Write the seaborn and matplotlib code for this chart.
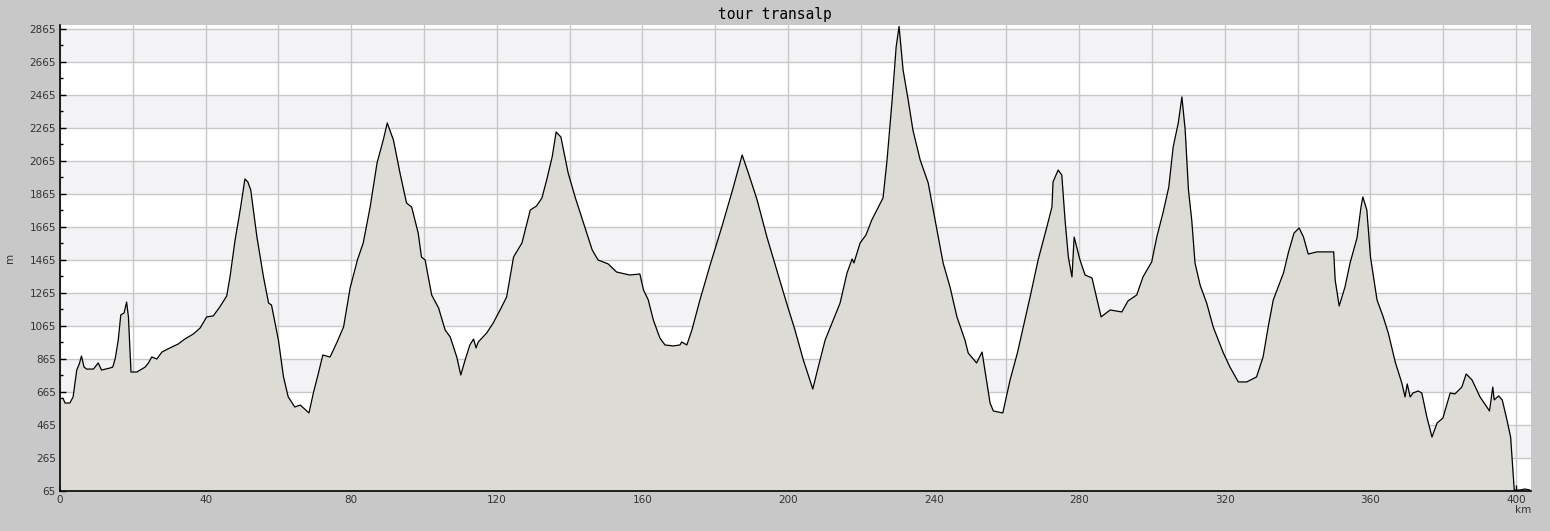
import numpy as np
import pandas as pd
import matplotlib
matplotlib.use("Agg")
import matplotlib.pyplot as plt
import matplotlib.ticker as mticker
import seaborn as sns

# 1. Profile data (distance in km, elevation in m)
km = [0.0, 0.8, 1.4, 2.7, 3.6, 4.6, 5.3, 5.9, 6.6, 7.3, 9.2, 10.5, 11.4, 13.7, 14.5,
      15.2, 16.0, 16.7, 17.6, 18.3, 18.8, 19.5, 21.1, 23.4, 24.3, 25.2, 26.6, 28.0,
      30.2, 32.5, 34.3, 36.6, 38.5, 40.3, 42.1, 43.9, 45.8, 46.7, 48.1, 49.5, 50.8,
      51.6, 52.4, 54.1, 55.9, 57.3, 58.1, 60.0, 61.4, 62.7, 64.5, 66.0, 68.4,
      69.6, 71.0, 72.2, 74.2, 76.0, 77.9, 79.7, 81.7, 83.3, 85.2, 87.1, 88.8, 89.9,
      91.6, 93.4, 95.2, 96.6, 98.4, 99.3, 100.3, 102.1, 104.0, 105.8, 107.2, 109.0,
      110.1, 111.3, 112.6, 113.6, 114.3, 114.9, 117.2, 119.0, 120.9, 122.7, 124.6,
      126.9, 129.2, 130.9, 132.4, 133.7, 135.2, 136.3, 137.6, 139.6, 141.5, 143.8,
      146.2, 147.8, 150.6, 152.9, 156.5, 159.3, 160.3, 161.6, 163.0, 164.8, 166.2,
      168.5, 170.3, 170.8, 172.2, 173.6, 175.8, 178.6, 181.8, 184.6, 187.4, 189.1,
      191.5, 194.2, 196.9, 199.6, 201.9, 204.2, 206.0, 206.8, 208.3, 210.2, 212.1,
      214.3, 216.2, 217.6, 218.1, 219.8, 221.4, 223.0, 224.4, 226.1, 227.2, 228.6,
      229.7, 230.5, 231.6, 233.0, 234.3, 236.3, 238.5, 240.4, 242.6, 244.5, 246.4,
      248.6, 249.5, 251.8, 253.3, 254.2, 255.5, 256.4, 259.0, 261.0, 263.0, 266.5,
      268.7, 271.1, 272.5, 272.8, 274.2, 275.2, 276.1, 277.0, 278.0, 278.6, 280.2,
      281.6, 283.5, 284.9, 286.0, 288.5, 291.7, 293.4, 295.8, 297.5, 299.9, 301.3,
      303.0, 304.6, 305.8, 307.2, 308.2, 309.1, 310.0, 310.9, 311.8, 313.2, 315.0,
      316.8, 319.6, 321.4, 323.7, 326.0, 328.7, 330.5, 331.9, 333.3, 336.1, 337.5,
      339.0, 340.4, 341.6, 342.9, 345.3, 349.9, 350.3, 351.4, 353.0, 354.4, 356.3,
      357.4, 357.9, 359.0, 360.0, 361.8, 363.5, 364.9, 366.8, 368.6, 369.5, 370.1,
      370.9, 371.7, 373.1, 374.1, 375.5, 376.9, 378.3, 379.9, 381.9, 383.2, 385.1,
      386.3, 387.9, 390.1, 392.7, 393.6, 394.0, 395.2, 396.2, 397.5, 398.5, 399.5,
      401.1, 402.4, 403.8]
elevation = [623, 628, 598, 598, 635, 798, 835, 883, 816, 804, 804, 841, 798, 810, 816,
             871, 980, 1132, 1144, 1210, 1120, 786, 786, 816, 841, 877, 865, 907,
             932, 956, 986, 1016, 1053, 1120, 1126, 1180, 1247, 1362, 1586, 1768, 1956,
             1938, 1889, 1604, 1362, 1204, 1192, 980, 756, 635, 574, 586, 538,
             659, 780, 889, 877, 962, 1059, 1295, 1465, 1568, 1786, 2053, 2192, 2295,
             2192, 1992, 1810, 1786, 1628, 1483, 1465, 1253, 1174, 1041, 998, 877,
             768, 859, 950, 986, 932, 968, 1022, 1083, 1162, 1241, 1483,
             1568, 1768, 1792, 1841, 1950, 2089, 2241, 2210, 1992, 1847, 1689,
             1526, 1465, 1441, 1392, 1374, 1380, 1283, 1223, 1101, 992, 950,
             944, 950, 968, 950, 1041, 1223, 1435, 1665, 1877, 2101, 1992,
             1829, 1604, 1404, 1204, 1041, 859, 738, 683, 816, 980, 1083,
             1204, 1386, 1471, 1447, 1568, 1616, 1707, 1768, 1841, 2071, 2435,
             2756, 2880, 2617, 2435, 2253, 2071, 1932, 1707, 1447, 1301, 1120,
             980, 901, 841, 907, 780, 598, 550, 538, 738, 901, 1241,
             1465, 1665, 1786, 1938, 2010, 1980, 1707, 1483, 1362, 1604, 1465,
             1374, 1356, 1223, 1120, 1162, 1150, 1217, 1253, 1362, 1453, 1604,
             1750, 1907, 2150, 2295, 2453, 2253, 1889, 1707, 1447, 1313, 1204,
             1059, 901, 816, 726, 726, 756, 877, 1059, 1223, 1386, 1514,
             1628, 1659, 1604, 1501, 1514, 1514, 1344, 1186, 1301, 1447, 1598,
             1786, 1847, 1768, 1483, 1223, 1120, 1022, 847, 720, 635, 714,
             635, 659, 671, 659, 513, 392, 477, 507, 659, 653, 695,
             774, 738, 635, 550, 695, 617, 641, 617, 495, 392, 71,
             71, 77, 71]

y_ticks = list(range(65, 2866, 200))
x_label_ticks = list(range(0, 401, 40))

df = pd.DataFrame({"km": km, "m": elevation})

# 2. Style
sns.set_theme(style="white")
plt.rcParams["font.family"] = ["DejaVu Sans"]

fig = plt.figure(figsize=(15.5, 5.31), dpi=100, facecolor="#c8c8c8")
ax = fig.add_axes([60 / 1550, 1 - 491 / 531, (1531 - 60) / 1550, (491 - 25) / 531])
ax.set_facecolor("white")

x_max = 404.1
y_min, y_max = 65, 2889
ax.set_xlim(0, x_max)
ax.set_ylim(y_min, y_max)

# alternating horizontal bands
for i, lo in enumerate(y_ticks[:-1]):
    if i % 2 == 1:
        ax.axhspan(lo, lo + 200, color="#f3f2f5", lw=0, zorder=0)

# 3. Profile
ax.fill_between(df["km"], y_min, df["m"], color="#dcdbd6", lw=0, zorder=2)
sns.lineplot(data=df, x="km", y="m", ax=ax, color="black", linewidth=0.9,
             zorder=3, estimator=None, sort=False)

# 4. Ticks & grid
ax.set_yticks(y_ticks)
ax.yaxis.set_minor_locator(mticker.FixedLocator([v + 100 for v in y_ticks[:-1]]))
ax.xaxis.set_major_locator(mticker.MultipleLocator(20))
ax.xaxis.set_minor_locator(mticker.MultipleLocator(10))
ax.xaxis.set_major_formatter(mticker.FuncFormatter(
    lambda v, p: f"{int(round(v))}" if int(round(v)) in x_label_ticks else ""))

ax.grid(True, which="major", color="#c8c8c8", linewidth=1.0, zorder=1)
ax.set_axisbelow(True)
ax.tick_params(axis="both", which="major", direction="in", length=4.5, width=1,
               color="black", labelsize=7.5, labelcolor="#333333", pad=3)
ax.tick_params(axis="both", which="minor", direction="in", length=2.5, width=1,
               color="black")
ax.tick_params(axis="x", which="minor", length=3)
ax.tick_params(axis="x", which="both", bottom=True)
ax.tick_params(axis="y", which="both", left=True)

for side in ["top", "right"]:
    ax.spines[side].set_visible(False)
for side in ["left", "bottom"]:
    ax.spines[side].set_color("black")
    ax.spines[side].set_linewidth(1.2)
    ax.spines[side].set_zorder(5)

ax.set_xlabel("km", fontsize=7.5, color="#333333", loc="right", labelpad=0)
ax.set_ylabel("m", fontsize=7.5, color="#333333", labelpad=10)

fig.suptitle("tour transalp", x=0.5, y=1 - 14 / 531, va="center",
             fontsize=10.5, family="DejaVu Sans Mono", color="black")

plt.savefig("out.png", dpi=100, facecolor=fig.get_facecolor())
